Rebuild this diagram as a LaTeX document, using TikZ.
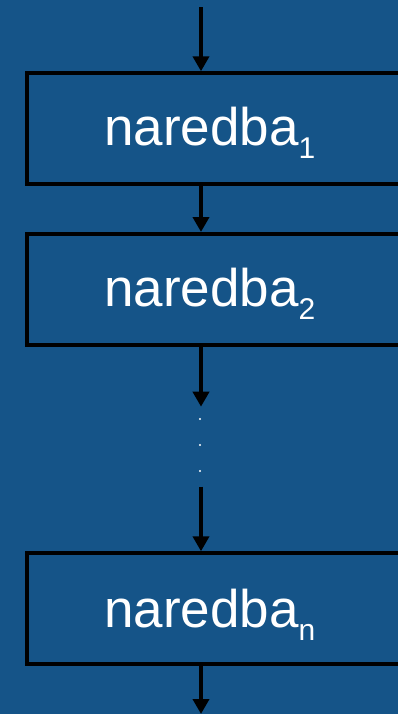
\documentclass[tikz,border=0pt]{standalone}
\usepackage{fontspec}
\setmainfont{Liberation Sans}
\usetikzlibrary{arrows.meta}
\definecolor{bgblue}{RGB}{21,84,136}
\tikzset{
  boxst/.style={draw=black, line width=4pt, rectangle, minimum width=400pt, minimum height=110.7pt, anchor=north west, inner sep=0pt},
  txt/.style={text=white, font=\fontsize{53}{60}\selectfont, anchor=base west, inner sep=0pt},
  arr/.style={draw=black, line width=4pt, -{Triangle[width=16pt,length=15pt]}},
  dotst/.style={circle, fill=white, inner sep=0pt, minimum size=2.2pt}
}
\newcommand{\mysub}[1]{\raisebox{-13pt}{\fontsize{30}{30}\selectfont #1}}
\begin{document}
\begin{tikzpicture}[x=1pt,y=1pt]
\fill[bgblue] (0,0) rectangle (398,-714);
\useasboundingbox (0,0) rectangle (398,-714);
\node[boxst] (b1) at (25.3,-71.3) {};
\node[boxst] (b2) at (25.3,-232) {};
\node[boxst] (bn) at (25.3,-551.3) {};
\node[txt] (t1) at (104,-146) {naredba\mysub{1}};
\node[txt] (t2) at (104,-306.7) {naredba\mysub{2}};
\node[txt] (tn) at (104,-627) {naredba\mysub{n}};
\coordinate (top) at (201,-7.3);
\coordinate (e2) at (201,-406.7);
\coordinate (s3) at (201,-486.7);
\coordinate (bot) at (201,-714);
\node[dotst] (d1) at (200,-419) {};
\node[dotst] (d2) at (200,-445) {};
\node[dotst] (d3) at (200,-471) {};
\draw[arr] (top) -- (top |- b1.north);
\draw[arr] (top |- b1.south) -- (top |- b2.north);
\draw[arr] (top |- b2.south) -- (e2);
\draw[arr] (s3) -- (top |- bn.north);
\draw[arr] (top |- bn.south) -- (bot);
\end{tikzpicture}
\end{document}
